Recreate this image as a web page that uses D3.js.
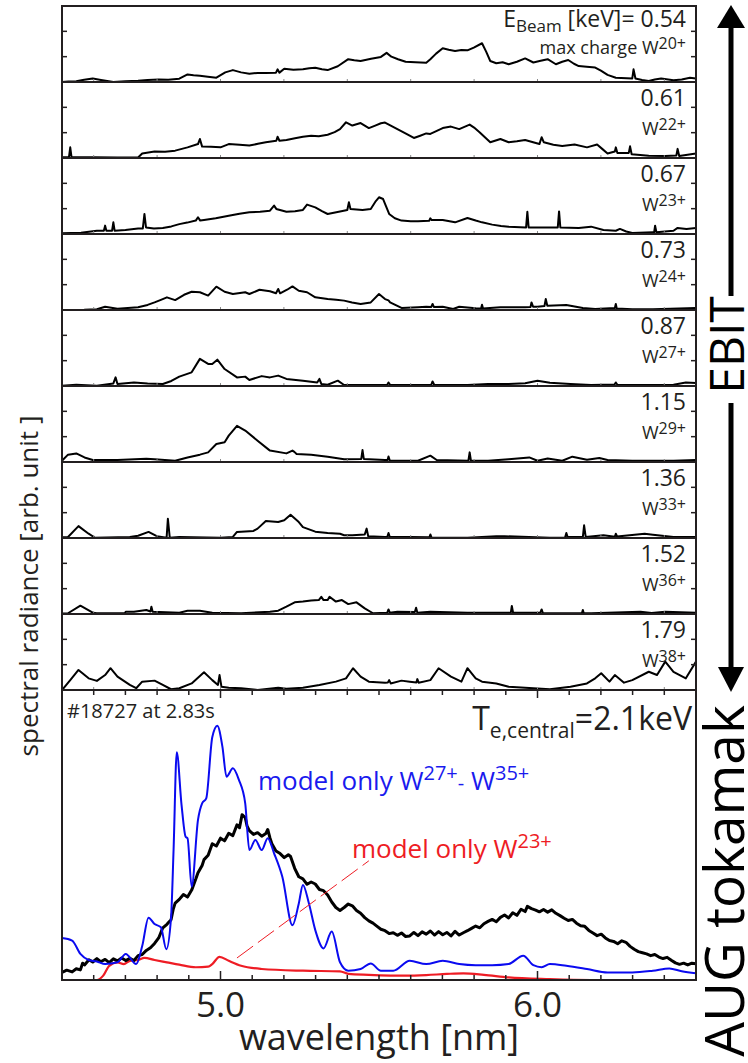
<!DOCTYPE html>
<html>
<head>
<meta charset="utf-8">
<script src="https://cdn.jsdelivr.net/npm/d3@7"></script>
<style>
  html, body { margin: 0; padding: 0; background: #fff; }
  svg { display: block; }
  text { font-family: "Open Sans", "Noto Sans", sans-serif; fill: #231f20; }
</style>
</head>
<body>
<svg id="chart" width="748" height="1063"></svg>
<script>
// EBIT spectra, one per beam energy: [wavelength nm, intensity (arb.)]
const ebitEnergies = ["0.54", "0.61", "0.67", "0.73", "0.87", "1.15", "1.36", "1.52", "1.79"];
const ebitMaxCharge = ["20+", "22+", "23+", "24+", "27+", "29+", "33+", "36+", "38+"];

const ebit054 = [[4.500,0.0],[4.520,0.02],[4.545,0.03],[4.570,0.09],[4.597,0.14],[4.623,0.08],[4.662,0.0],[4.700,0.03],[4.740,0.05],[4.770,0.08],[4.805,0.1],[4.835,0.09],[4.870,0.13],[4.896,0.3],[4.915,0.27],[4.935,0.25],[4.960,0.21],[4.987,0.17],[5.015,0.38],[5.039,0.47],[5.065,0.38],[5.091,0.33],[5.118,0.36],[5.143,0.36],[5.175,0.37],[5.180,0.5],[5.186,0.37],[5.201,0.52],[5.230,0.48],[5.260,0.5],[5.280,0.54],[5.299,0.56],[5.320,0.5],[5.338,0.47],[5.370,0.62],[5.403,0.9],[5.422,0.86],[5.442,0.83],[5.475,0.92],[5.506,0.99],[5.524,1.15],[5.539,1.0],[5.560,0.9],[5.584,0.80],[5.615,0.78],[5.649,0.76],[5.662,0.9],[5.680,1.12],[5.701,1.33],[5.720,1.27],[5.740,1.22],[5.760,1.26],[5.779,1.25],[5.799,1.36],[5.825,1.53],[5.838,1.2],[5.851,0.83],[5.870,0.74],[5.890,0.78],[5.909,0.70],[5.935,0.8],[5.961,0.93],[5.987,0.77],[6.010,0.84],[6.032,0.9],[6.058,0.7],[6.078,0.8],[6.097,0.87],[6.115,0.72],[6.130,0.63],[6.155,0.6],[6.182,0.57],[6.200,0.45],[6.221,0.28],[6.247,0.17],[6.299,0.14],[6.303,0.5],[6.309,0.14],[6.330,0.08],[6.351,0.04],[6.370,0.1],[6.390,0.14],[6.429,0.07],[6.455,0.1],[6.481,0.17],[6.500,0.14]];
const ebit061 = [[4.500,0.03],[4.522,0.03],[4.526,0.42],[4.530,0.03],[4.600,0.03],[4.675,0.02],[4.740,0.02],[4.753,0.18],[4.792,0.26],[4.825,0.25],[4.857,0.29],[4.896,0.42],[4.929,0.55],[4.935,0.75],[4.942,0.45],[4.970,0.44],[5.000,0.42],[5.026,0.55],[5.060,0.52],[5.091,0.49],[5.118,0.56],[5.143,0.62],[5.176,0.68],[5.180,0.84],[5.186,0.68],[5.208,0.71],[5.235,0.78],[5.260,0.84],[5.286,0.88],[5.310,0.86],[5.338,0.92],[5.360,1.02],[5.377,1.14],[5.396,1.41],[5.416,1.28],[5.442,1.38],[5.468,1.18],[5.488,1.28],[5.506,1.37],[5.519,1.40],[5.540,1.26],[5.558,1.14],[5.585,0.96],[5.610,0.79],[5.630,0.88],[5.649,0.97],[5.662,0.95],[5.701,1.18],[5.727,1.24],[5.753,1.14],[5.786,1.32],[5.800,1.2],[5.818,1.01],[5.851,0.62],[5.883,0.75],[5.909,0.62],[5.935,0.66],[5.961,0.71],[6.006,0.55],[6.013,0.82],[6.020,0.62],[6.050,0.52],[6.078,0.47],[6.117,0.53],[6.156,0.42],[6.188,0.53],[6.205,0.35],[6.221,0.18],[6.244,0.26],[6.247,0.42],[6.252,0.2],[6.288,0.2],[6.292,0.46],[6.297,0.15],[6.351,0.09],[6.403,0.08],[6.438,0.1],[6.442,0.36],[6.447,0.08],[6.500,0.18]];
const ebit067 = [[4.500,0.03],[4.560,0.05],[4.610,0.13],[4.632,0.13],[4.636,0.33],[4.640,0.13],[4.658,0.13],[4.662,0.46],[4.666,0.13],[4.700,0.16],[4.740,0.22],[4.755,0.22],[4.760,0.79],[4.765,0.26],[4.790,0.22],[4.818,0.24],[4.845,0.3],[4.870,0.39],[4.895,0.45],[4.922,0.53],[4.929,0.66],[4.936,0.53],[4.948,0.55],[4.985,0.62],[5.026,0.72],[5.060,0.8],[5.091,0.86],[5.125,0.88],[5.156,0.92],[5.169,1.12],[5.176,0.99],[5.208,0.88],[5.235,0.9],[5.260,0.95],[5.273,1.16],[5.299,1.05],[5.320,0.9],[5.338,0.79],[5.377,0.89],[5.400,0.95],[5.405,1.25],[5.410,0.99],[5.448,0.95],[5.474,0.99],[5.490,1.3],[5.500,1.45],[5.513,1.38],[5.522,1.1],[5.532,0.79],[5.550,0.62],[5.571,0.53],[5.600,0.5],[5.623,0.50],[5.658,0.52],[5.662,0.62],[5.666,0.55],[5.701,0.55],[5.740,0.46],[5.779,0.63],[5.805,0.53],[5.825,0.46],[5.857,0.37],[5.885,0.32],[5.909,0.29],[5.964,0.26],[5.968,0.88],[5.972,0.26],[6.039,0.26],[6.064,0.26],[6.068,0.89],[6.072,0.26],[6.130,0.24],[6.169,0.29],[6.208,0.16],[6.247,0.13],[6.260,0.2],[6.280,0.1],[6.299,0.04],[6.364,0.07],[6.368,0.07],[6.371,0.33],[6.375,0.07],[6.429,0.13],[6.442,0.24],[6.470,0.2],[6.500,0.24]];
const ebit073 = [[4.500,0.0],[4.570,0.01],[4.610,0.03],[4.636,0.13],[4.675,0.05],[4.740,0.11],[4.770,0.2],[4.792,0.30],[4.812,0.4],[4.831,0.50],[4.857,0.39],[4.885,0.6],[4.909,0.72],[4.935,0.70],[4.961,0.57],[4.987,0.92],[5.013,0.72],[5.039,0.63],[5.078,0.70],[5.091,0.63],[5.123,0.80],[5.156,0.74],[5.175,0.66],[5.182,0.83],[5.188,0.66],[5.210,0.8],[5.227,0.93],[5.247,0.76],[5.273,0.70],[5.299,0.50],[5.338,0.43],[5.365,0.4],[5.390,0.37],[5.415,0.3],[5.442,0.24],[5.474,0.30],[5.500,0.63],[5.519,0.43],[5.530,0.38],[5.535,0.30],[5.571,0.08],[5.623,0.11],[5.649,0.13],[5.665,0.12],[5.669,0.24],[5.673,0.12],[5.701,0.13],[5.734,0.04],[5.753,0.13],[5.805,0.07],[5.822,0.06],[5.825,0.21],[5.828,0.06],[5.883,0.11],[5.961,0.11],[5.978,0.12],[5.981,0.30],[5.986,0.13],[6.000,0.13],[6.022,0.16],[6.026,0.43],[6.031,0.17],[6.091,0.20],[6.143,0.08],[6.182,0.04],[6.244,0.08],[6.247,0.24],[6.250,0.06],[6.299,0.03],[6.364,0.03],[6.500,0.08]];
const ebit087 = [[4.500,0.01],[4.545,0.05],[4.610,0.01],[4.662,0.10],[4.669,0.34],[4.675,0.08],[4.727,0.14],[4.770,0.1],[4.818,0.08],[4.845,0.2],[4.870,0.37],[4.909,0.54],[4.935,1.07],[4.961,0.87],[4.974,0.87],[4.990,1.04],[5.013,0.67],[5.052,0.34],[5.078,0.37],[5.091,0.24],[5.130,0.39],[5.156,0.34],[5.182,0.41],[5.208,0.28],[5.260,0.21],[5.305,0.14],[5.312,0.28],[5.318,0.08],[5.338,0.05],[5.370,0.21],[5.390,0.04],[5.442,0.04],[5.526,0.05],[5.530,0.14],[5.535,0.05],[5.584,0.04],[5.665,0.05],[5.669,0.18],[5.674,0.05],[5.727,0.04],[5.779,0.04],[5.844,0.08],[5.909,0.08],[5.961,0.11],[6.000,0.21],[6.039,0.13],[6.104,0.08],[6.169,0.04],[6.243,0.06],[6.247,0.14],[6.252,0.05],[6.299,0.04],[6.429,0.05],[6.468,0.14],[6.500,0.12]];
const ebit115 = [[4.500,0.05],[4.519,0.29],[4.545,0.34],[4.571,0.18],[4.597,0.08],[4.675,0.08],[4.766,0.13],[4.792,0.11],[4.857,0.05],[4.896,0.18],[4.935,0.29],[4.961,0.38],[4.987,0.71],[5.013,0.78],[5.026,1.04],[5.052,1.43],[5.078,1.24],[5.117,0.84],[5.156,0.45],[5.208,0.34],[5.227,0.45],[5.233,0.40],[5.240,0.32],[5.286,0.29],[5.338,0.21],[5.390,0.11],[5.444,0.12],[5.448,0.47],[5.452,0.12],[5.519,0.08],[5.527,0.08],[5.530,0.22],[5.534,0.06],[5.623,0.05],[5.662,0.25],[5.682,0.08],[5.782,0.05],[5.786,0.38],[5.790,0.05],[5.844,0.05],[5.909,0.11],[5.974,0.18],[6.000,0.05],[6.032,0.14],[6.078,0.05],[6.110,0.21],[6.156,0.09],[6.195,0.16],[6.221,0.08],[6.299,0.05],[6.429,0.05],[6.500,0.08]];
const ebit136 = [[4.500,0.03],[4.519,0.04],[4.552,0.47],[4.584,0.17],[4.604,0.01],[4.714,0.04],[4.740,0.09],[4.773,0.24],[4.799,0.07],[4.830,0.01],[4.834,0.76],[4.840,0.01],[4.870,0.04],[5.000,0.01],[5.039,0.04],[5.052,0.24],[5.104,0.28],[5.117,0.37],[5.143,0.67],[5.182,0.63],[5.201,0.70],[5.221,0.92],[5.247,0.63],[5.260,0.43],[5.299,0.25],[5.338,0.20],[5.377,0.17],[5.390,0.11],[5.416,0.11],[5.455,0.14],[5.461,0.37],[5.466,0.07],[5.519,0.04],[5.526,0.04],[5.530,0.20],[5.534,0.04],[5.597,0.04],[5.659,0.03],[5.662,0.14],[5.666,0.01],[5.779,0.01],[5.870,0.07],[5.896,0.07],[6.039,0.01],[6.087,0.02],[6.091,0.20],[6.095,0.04],[6.117,0.04],[6.143,0.04],[6.147,0.50],[6.152,0.04],[6.208,0.11],[6.244,0.05],[6.247,0.17],[6.251,0.06],[6.338,0.17],[6.364,0.13],[6.429,0.04],[6.500,0.04]];
const ebit152 = [[4.500,0.02],[4.519,0.03],[4.558,0.33],[4.597,0.05],[4.610,0.03],[4.698,0.03],[4.701,0.09],[4.727,0.09],[4.766,0.16],[4.779,0.10],[4.782,0.29],[4.786,0.09],[4.870,0.05],[4.896,0.13],[4.935,0.13],[4.974,0.05],[5.065,0.03],[5.156,0.09],[5.182,0.13],[5.208,0.29],[5.234,0.46],[5.260,0.49],[5.286,0.53],[5.310,0.55],[5.318,0.68],[5.325,0.55],[5.338,0.55],[5.344,0.68],[5.364,0.49],[5.383,0.55],[5.403,0.39],[5.429,0.46],[5.455,0.22],[5.481,0.03],[5.526,0.05],[5.530,0.18],[5.534,0.05],[5.558,0.09],[5.613,0.08],[5.617,0.25],[5.621,0.05],[5.662,0.09],[5.779,0.05],[5.909,0.05],[5.916,0.06],[5.919,0.32],[5.923,0.05],[6.009,0.05],[6.013,0.18],[6.017,0.04],[6.039,0.03],[6.140,0.03],[6.143,0.16],[6.146,0.03],[6.169,0.03],[6.325,0.09],[6.360,0.04],[6.403,0.09],[6.500,0.05]];
const ebit179 = [[4.500,0.0],[4.526,0.39],[4.552,0.79],[4.584,0.46],[4.610,0.36],[4.636,0.59],[4.653,0.86],[4.675,0.53],[4.714,0.20],[4.734,0.07],[4.753,0.33],[4.792,0.37],[4.818,0.20],[4.844,0.03],[4.870,0.07],[4.909,0.26],[4.948,0.70],[4.974,0.39],[4.992,0.20],[4.997,0.59],[5.003,0.13],[5.026,0.09],[5.065,0.07],[5.117,0.0],[5.182,0.09],[5.208,0.05],[5.260,0.09],[5.312,0.20],[5.364,0.33],[5.396,0.46],[5.418,0.86],[5.442,0.53],[5.468,0.33],[5.519,0.29],[5.528,0.30],[5.532,0.39],[5.537,0.26],[5.571,0.37],[5.597,0.33],[5.618,0.30],[5.621,0.43],[5.625,0.29],[5.662,0.39],[5.688,0.86],[5.727,0.53],[5.760,0.33],[5.779,0.86],[5.805,0.46],[5.825,0.33],[5.870,0.26],[5.909,0.13],[5.987,0.07],[6.039,0.03],[6.104,0.13],[6.156,0.26],[6.182,0.46],[6.201,0.66],[6.227,0.33],[6.244,0.59],[6.273,0.29],[6.299,0.39],[6.351,0.72],[6.377,0.59],[6.403,1.12],[6.429,0.72],[6.468,0.46],[6.500,1.12]];

const ebitSpectra = [ebit054, ebit061, ebit067, ebit073, ebit087, ebit115, ebit136, ebit152, ebit179];

// AUG tokamak spectrum (#18727 at 2.83 s) and model curves
const augMeasured = [[4.500,2.6],[4.515,3.4],[4.532,2.8],[4.545,3.9],[4.558,3.5],[4.565,5.8],[4.571,5.2],[4.585,7.0],[4.597,6.2],[4.610,7.4],[4.622,6.3],[4.636,7.1],[4.649,6.0],[4.662,7.3],[4.675,6.6],[4.688,7.6],[4.701,6.7],[4.714,7.5],[4.727,6.7],[4.740,8.4],[4.753,8.8],[4.766,10.2],[4.779,11.1],[4.792,12.6],[4.805,14.5],[4.818,18.0],[4.831,19.2],[4.844,20.8],[4.851,24.5],[4.857,26.5],[4.870,27.8],[4.883,29.5],[4.896,28.6],[4.909,31.0],[4.922,34.8],[4.929,37.0],[4.942,39.5],[4.948,41.5],[4.961,43.0],[4.974,47.0],[4.987,46.2],[5.000,48.9],[5.013,48.0],[5.026,50.6],[5.039,49.8],[5.052,53.5],[5.060,52.5],[5.068,57.0],[5.078,56.0],[5.084,53.0],[5.091,51.5],[5.104,50.2],[5.117,50.8],[5.130,49.6],[5.143,50.5],[5.149,51.9],[5.156,49.0],[5.162,47.0],[5.175,44.5],[5.188,43.6],[5.201,42.2],[5.214,43.2],[5.221,42.6],[5.234,38.5],[5.247,35.6],[5.260,34.9],[5.273,33.0],[5.286,33.8],[5.299,33.1],[5.312,31.2],[5.325,30.8],[5.338,29.3],[5.351,26.9],[5.364,25.0],[5.377,24.0],[5.390,25.0],[5.403,26.2],[5.416,25.6],[5.429,24.0],[5.442,23.0],[5.455,21.5],[5.468,20.4],[5.481,19.6],[5.494,18.5],[5.506,17.5],[5.519,17.0],[5.532,16.0],[5.545,16.3],[5.558,15.4],[5.571,16.2],[5.584,15.0],[5.597,15.2],[5.610,16.4],[5.623,15.3],[5.636,16.6],[5.649,15.8],[5.662,16.9],[5.675,15.5],[5.688,16.7],[5.701,15.6],[5.714,16.4],[5.727,15.2],[5.740,16.8],[5.753,15.5],[5.766,16.3],[5.779,17.0],[5.792,17.8],[5.805,18.6],[5.818,18.0],[5.831,19.4],[5.844,20.2],[5.857,20.9],[5.870,20.1],[5.883,21.6],[5.896,22.4],[5.909,21.4],[5.922,23.2],[5.935,22.3],[5.948,24.4],[5.961,23.6],[5.968,25.4],[5.981,24.6],[5.994,24.1],[6.006,23.5],[6.019,24.3],[6.032,23.4],[6.045,24.2],[6.058,23.0],[6.071,22.2],[6.084,21.3],[6.097,20.5],[6.110,20.9],[6.123,19.6],[6.136,18.7],[6.149,18.5],[6.162,17.1],[6.175,16.2],[6.188,15.3],[6.201,15.8],[6.214,14.5],[6.227,13.6],[6.240,13.3],[6.253,12.5],[6.266,13.5],[6.279,13.0],[6.292,11.6],[6.305,10.6],[6.318,9.8],[6.331,9.4],[6.344,9.0],[6.357,8.4],[6.370,8.8],[6.383,7.9],[6.396,7.4],[6.409,7.8],[6.422,6.8],[6.435,5.9],[6.448,5.4],[6.461,5.8],[6.474,5.2],[6.487,5.8],[6.500,5.6]];
const augModelW27to35 = [[4.500,14.5],[4.532,13.6],[4.558,9.0],[4.584,6.9],[4.610,6.4],[4.636,5.5],[4.675,6.1],[4.701,9.0],[4.734,5.5],[4.753,11.7],[4.773,21.5],[4.792,19.3],[4.812,18.2],[4.829,10.6],[4.844,21.5],[4.852,45.0],[4.862,78.5],[4.877,60.5],[4.890,49.4],[4.896,48.9],[4.909,32.2],[4.929,55.2],[4.942,60.9],[4.955,62.6],[4.974,83.7],[4.990,87.7],[5.006,80.5],[5.019,70.1],[5.039,73.0],[5.058,69.0],[5.078,60.9],[5.091,44.8],[5.110,48.3],[5.130,44.8],[5.149,48.9],[5.169,43.7],[5.195,35.6],[5.227,18.9],[5.247,26.4],[5.260,32.8],[5.279,26.4],[5.299,17.2],[5.325,10.9],[5.351,16.7],[5.377,6.1],[5.403,3.2],[5.442,3.8],[5.474,5.7],[5.506,3.2],[5.545,3.2],[5.597,6.6],[5.649,5.5],[5.701,6.6],[5.753,5.5],[5.805,5.1],[5.857,5.1],[5.909,5.5],[5.955,8.4],[5.987,5.1],[6.013,4.4],[6.039,5.5],[6.091,4.9],[6.156,3.8],[6.221,2.6],[6.299,2.6],[6.364,3.2],[6.416,4.0],[6.455,3.0],[6.500,2.3]];
const augModelW23 = [[4.500,0.0],[4.610,0.0],[4.630,1.5],[4.649,4.9],[4.675,6.1],[4.695,5.5],[4.714,6.6],[4.740,6.9],[4.760,7.6],[4.792,6.9],[4.831,6.1],[4.870,5.3],[4.922,4.4],[4.961,4.6],[4.974,5.5],[4.997,8.0],[5.026,6.6],[5.065,4.9],[5.130,3.8],[5.260,3.2],[5.377,3.0],[5.403,2.1],[5.468,1.8],[5.584,1.5],[5.649,1.7],[5.714,2.1],[5.766,2.3],[5.831,1.8],[5.909,0.9],[6.039,0.3],[6.169,0.0],[6.500,0.0]];
// pointer from the W23+ label to its feature
const augW23Pointer = [[5.052,7.6],[5.468,41.1]];

const xTicks = [5.0, 6.0];

const svg = d3.select("#chart");
const left = 62, right = 696;
const ebitTop = 6, ebitH = 76;
const augTop = ebitTop + ebitH * ebitSpectra.length, augBottom = 980;
const ink = "#231f20";

const x = d3.scaleLinear().domain([4.5, 6.5]).range([left, right]);
const minorTicks = d3.range(46, 65).map(d => d / 10);

svg.append("defs").append("clipPath").attr("id", "plotClip")
    .append("rect").attr("x", left).attr("y", ebitTop).attr("width", right - left).attr("height", augBottom - ebitTop);

// EBIT panels
ebitSpectra.forEach((series, i) => {
    const top = ebitTop + i * ebitH;
    const y = d3.scaleLinear().domain([0, 3]).range([top + ebitH, top]);
    const g = svg.append("g");

    g.append("path")
        .datum(series)
        .attr("clip-path", "url(#plotClip)")
        .attr("fill", "none")
        .attr("stroke", "#000")
        .attr("stroke-width", 2)
        .attr("stroke-linejoin", "round")
        .attr("d", d3.line().x(d => x(d[0])).y(d => y(d[1])));

    // inward ticks left and right
    [1, 2].forEach(v => {
        g.append("line").attr("x1", left).attr("x2", left + 5).attr("y1", y(v)).attr("y2", y(v))
            .attr("stroke", ink).attr("stroke-width", 1.5);
        g.append("line").attr("x1", right - 5).attr("x2", right).attr("y1", y(v)).attr("y2", y(v))
            .attr("stroke", ink).attr("stroke-width", 1.5);
    });
    // faint ticks on the panel floor
    d3.range(46, 65, 2).map(d => d / 10).forEach(t => {
        g.append("line").attr("x1", x(t)).attr("x2", x(t)).attr("y1", top + ebitH).attr("y2", top + ebitH - 3)
            .attr("stroke", "#888").attr("stroke-width", 1);
    });

    g.append("rect").attr("x", left).attr("y", top).attr("width", right - left).attr("height", ebitH)
        .attr("fill", "none").attr("stroke", ink).attr("stroke-width", 2);

    // labels
    if (i === 0) {
        const t1 = g.append("text").attr("x", right - 10).attr("y", top + 21)
            .attr("text-anchor", "end").attr("font-size", 23);
        t1.append("tspan").text("E");
        t1.append("tspan").attr("font-size", 17).attr("dy", 5).text("Beam");
        t1.append("tspan").attr("dy", -5).text(" [keV]= " + ebitEnergies[i]);
        const t2 = g.append("text").attr("x", right - 10).attr("y", top + 48)
            .attr("text-anchor", "end").attr("font-size", 18);
        t2.append("tspan").text("max charge W");
        t2.append("tspan").attr("font-size", 16).attr("dy", -5).text(ebitMaxCharge[i]);
    } else {
        g.append("text").attr("x", right - 10).attr("y", top + 24)
            .attr("text-anchor", "end").attr("font-size", 23).text(ebitEnergies[i]);
        const t2 = g.append("text").attr("x", right - 10).attr("y", top + 53)
            .attr("text-anchor", "end").attr("font-size", 18);
        t2.append("tspan").text("W");
        t2.append("tspan").attr("font-size", 16).attr("dy", -5).text(ebitMaxCharge[i]);
    }
});

// AUG panel
const yAug = d3.scaleLinear().domain([0, 100]).range([augBottom, augTop]);
const aug = svg.append("g");
const augLine = d3.line().x(d => x(d[0])).y(d => yAug(d[1]));

aug.append("path").datum(augModelW23).attr("clip-path", "url(#plotClip)")
    .attr("fill", "none").attr("stroke", "#ee1c24").attr("stroke-width", 2.2)
    .attr("d", augLine.curve(d3.curveMonotoneX));
aug.append("path").datum(augMeasured).attr("clip-path", "url(#plotClip)")
    .attr("fill", "none").attr("stroke", "#000").attr("stroke-width", 3)
    .attr("stroke-linejoin", "round")
    .attr("d", augLine.curve(d3.curveLinear));
aug.append("path").datum(augModelW27to35).attr("clip-path", "url(#plotClip)")
    .attr("fill", "none").attr("stroke", "#0a0af0").attr("stroke-width", 2)
    .attr("d", augLine.curve(d3.curveMonotoneX));
aug.append("path").datum(augW23Pointer)
    .attr("fill", "none").attr("stroke", "#ee1c24").attr("stroke-width", 1)
    .attr("stroke-dasharray", "20,6")
    .attr("d", augLine.curve(d3.curveLinear));

// axes on top and bottom of the AUG panel
minorTicks.forEach(t => {
    const major = xTicks.some(m => Math.abs(m - t) < 1e-9);
    aug.append("line").attr("x1", x(t)).attr("x2", x(t))
        .attr("y1", augTop).attr("y2", augTop + (major ? 8 : 5))
        .attr("stroke", ink).attr("stroke-width", 1.5);
    aug.append("line").attr("x1", x(t)).attr("x2", x(t))
        .attr("y1", augBottom).attr("y2", augBottom - (major ? 9 : 5))
        .attr("stroke", ink).attr("stroke-width", 1.5);
});
aug.append("rect").attr("x", left).attr("y", augTop).attr("width", right - left).attr("height", augBottom - augTop)
    .attr("fill", "none").attr("stroke", ink).attr("stroke-width", 2);

aug.selectAll(".xlab").data(xTicks).enter().append("text")
    .attr("x", d => x(d)).attr("y", 1017).attr("text-anchor", "middle")
    .attr("font-size", 35).text(d => d.toFixed(1));
svg.append("text").attr("x", (left + right) / 2).attr("y", 1050).attr("text-anchor", "middle")
    .attr("font-size", 36).text("wavelength [nm]");

aug.append("text").attr("x", 67).attr("y", 718).attr("font-size", 20).attr("fill", "#333").text("#18727 at 2.83s");

const te = aug.append("text").attr("x", right - 4).attr("y", 730).attr("text-anchor", "end").attr("font-size", 32);
te.append("tspan").text("T");
te.append("tspan").attr("font-size", 21).attr("dy", 8).text("e,central");
te.append("tspan").attr("dy", -8).text("=2.1keV");

const blueLab = aug.append("text").attr("x", 258).attr("y", 790).attr("font-size", 26).style("fill", "#1a1aee");
blueLab.append("tspan").text("model only W");
blueLab.append("tspan").attr("font-size", 20).attr("dy", -10).text("27+");
blueLab.append("tspan").attr("font-size", 20).attr("dy", 10).text("-");
blueLab.append("tspan").text(" W");
blueLab.append("tspan").attr("font-size", 20).attr("dy", -10).text("35+");

const redLab = aug.append("text").attr("x", 352).attr("y", 858).attr("font-size", 26).style("fill", "#ee1c24");
redLab.append("tspan").text("model only W");
redLab.append("tspan").attr("font-size", 20).attr("dy", -10).text("23+");

// y label
svg.append("text").attr("transform", "translate(38,586) rotate(-90)")
    .attr("text-anchor", "middle").attr("font-size", 26).text("spectral radiance [arb. unit ]");

// right-hand arrows and labels
const ax = 731;
svg.append("line").attr("x1", ax).attr("x2", ax).attr("y1", 26).attr("y2", 296).attr("stroke", "#000").attr("stroke-width", 5);
svg.append("path").attr("d", `M${ax - 14},28 L${ax + 14},28 L${ax},5 Z`).attr("fill", "#000");
svg.append("line").attr("x1", ax).attr("x2", ax).attr("y1", 403).attr("y2", 670).attr("stroke", "#000").attr("stroke-width", 5);
svg.append("path").attr("d", `M${ax - 13},667 L${ax + 13},667 L${ax},692 Z`).attr("fill", "#000");

svg.append("text").attr("transform", "translate(744,345) rotate(-90)")
    .attr("text-anchor", "middle").attr("font-size", 48).style("fill", "#000").text("EBIT");
svg.append("text").attr("transform", "translate(744,881) rotate(-90)")
    .attr("text-anchor", "middle").attr("font-size", 55).style("fill", "#000").text("AUG tokamak");
</script>
</body>
</html>
